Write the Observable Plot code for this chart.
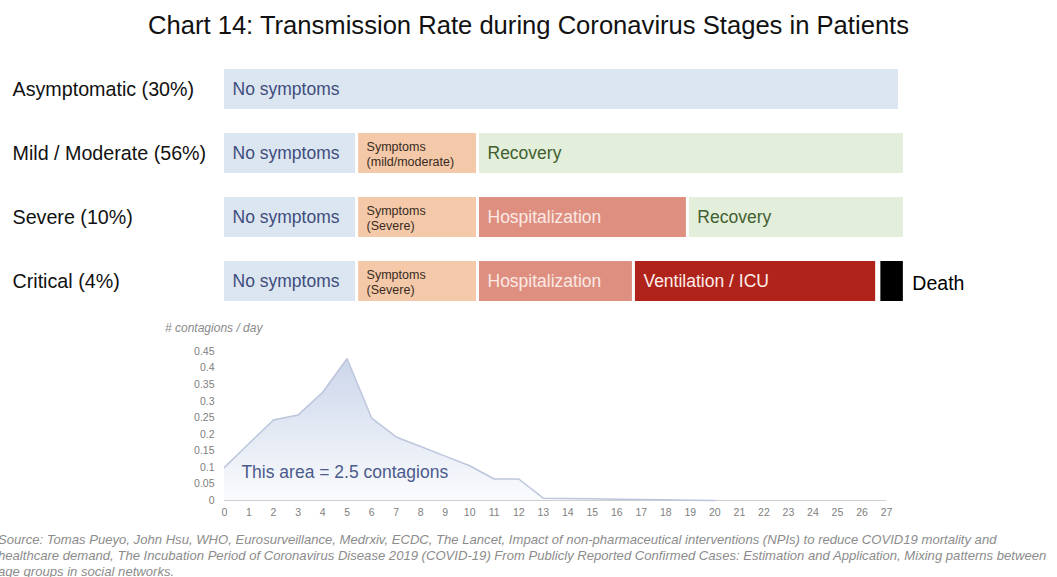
<!DOCTYPE html>
<html><head><meta charset="utf-8">
<script src="https://cdn.jsdelivr.net/npm/d3@7"></script>
<script src="https://cdn.jsdelivr.net/npm/@observablehq/plot@0.6"></script>
<style>
body{margin:0;width:1057px;height:577px;position:relative;overflow:hidden;background:#fff;font-family:"Liberation Sans",Arial,sans-serif;}
#title{position:absolute;left:0;top:11px;width:1057px;text-align:center;font-size:25.6px;color:#111;white-space:nowrap;}
#top{position:absolute;left:0;top:55px;}
#bottom{position:absolute;left:0;top:335px;}
#ylabel{position:absolute;left:165px;top:321px;font-size:12px;font-style:italic;color:#8a8a8a;}
#source{position:absolute;left:-2px;top:532px;font-size:13.1px;line-height:16px;font-style:italic;color:#8c8c8c;white-space:nowrap;}
</style></head><body>
<div id="title">Chart 14: Transmission Rate during Coronavirus Stages in Patients</div>
<div id="top"></div>
<div id="ylabel"># contagions / day</div>
<div id="bottom"></div>
<div id="source">Source: Tomas Pueyo, John Hsu, WHO, Eurosurveillance, Medrxiv, ECDC, The Lancet, Impact of non-pharmaceutical interventions (NPIs) to reduce COVID19 mortality and<br>healthcare demand, The Incubation Period of Coronavirus Disease 2019 (COVID-19) From Publicly Reported Confirmed Cases: Estimation and Application, Mixing patterns between<br>age groups in social networks.</div>
<script>
// ---- Data ----
const rows = ["Asymptomatic (30%)", "Mild / Moderate (56%)", "Severe (10%)", "Critical (4%)"];
const segRow   = [0, 1, 1, 1, 2, 2, 2, 2, 3, 3, 3, 3, 3];
const segStage = ["none", "none", "symptoms", "recovery", "none", "symptoms", "hosp", "recovery", "none", "symptoms", "hosp", "icu", "death"];
const segStart = [0, 0, 5.47, 10.4, 0, 5.47, 10.4, 18.96, 0, 5.47, 10.4, 16.76, 26.77];
const segEnd   = [27.61, 5.47, 10.4, 27.81, 5.47, 10.4, 18.96, 27.81, 5.47, 10.4, 16.76, 26.68, 27.81];
const segLabel = ["No symptoms", "No symptoms", "Symptoms\n(mild/moderate)", "Recovery", "No symptoms", "Symptoms\n(Severe)", "Hospitalization", "Recovery", "No symptoms", "Symptoms\n(Severe)", "Hospitalization", "Ventilation / ICU", "Death"];

const days = [0,1,2,3,4,5,6,7,8,9,10,11,12,13,14,15,16,17,18,19,20];
const contagions = [0.100, 0.172, 0.243, 0.258, 0.326, 0.428, 0.249, 0.192, 0.163, 0.134, 0.105, 0.065, 0.065, 0.007, 0.006, 0.005, 0.004, 0.003, 0.002, 0.001, 0];
const xTicks = [0,1,2,3,4,5,6,7,8,9,10,11,12,13,14,15,16,17,18,19,20,21,22,23,24,25,26,27];
const yTicks = [0, 0.05, 0.1, 0.15, 0.2, 0.25, 0.3, 0.35, 0.4, 0.45];
const yTickLabels = ["0", "0.05", "0.1", "0.15", "0.2", "0.25", "0.3", "0.35", "0.4", "0.45"];
const noteText = ["This area = 2.5 contagions"];
const noteX = [0.69];
const noteY = [0.085];

// ---- Styles ----
const stageFill = {none: "#dce6f1", symptoms: "#f3c9a9", recovery: "#e3eedb", hosp: "#de8f80", icu: "#b0231a", death: "#000000"};
const stageText = {none: "#3f4d7d", symptoms: "#3a2b22", recovery: "#41602f", hosp: "#fbe9e4", icu: "#fdeeea", death: "#000000"};
const FONT = '"Liberation Sans", Arial, sans-serif';
const idx = segRow.map((_, i) => i);

const topPlot = Plot.plot({
  width: 1057, height: 253,
  marginLeft: 224, marginRight: 171, marginTop: 10, marginBottom: 2,
  style: {background: "transparent", fontFamily: FONT},
  x: {domain: [0, 27], axis: null},
  y: {domain: rows, axis: null, paddingInner: 0.37, paddingOuter: 0.05},
  color: {type: "identity"},
  marks: [
    Plot.barX(idx, {x1: i => segStart[i], x2: i => segEnd[i], y: i => rows[segRow[i]], fill: i => stageFill[segStage[i]], insetRight: 3}),
    Plot.text(rows, {y: d => d, frameAnchor: "left", dx: -212, textAnchor: "start", fontSize: 19.7, fill: "#111"}),
    Plot.text(idx.filter(i => ["none","recovery","hosp","icu"].includes(segStage[i])), {x: i => segStart[i], y: i => rows[segRow[i]], text: i => segLabel[i], dx: 8, textAnchor: "start", fontSize: 17.5, fill: i => stageText[segStage[i]]}),
    Plot.text(idx.filter(i => segStage[i] === "symptoms"), {x: i => segStart[i], y: i => rows[segRow[i]], text: i => segLabel[i], dx: 8, textAnchor: "start", fontSize: 12.5, lineHeight: 1.2, fill: i => stageText[segStage[i]]}),
    Plot.text(idx.filter(i => segStage[i] === "death"), {x: i => segEnd[i], y: i => rows[segRow[i]], text: i => segLabel[i], dx: 6, dy: 2, textAnchor: "start", fontSize: 19.5, fill: "#000"})
  ]
});
document.getElementById("top").appendChild(topPlot);

const gradDefs = () => {
  const defs = d3.create("svg:defs");
  const g = defs.append("linearGradient").attr("id", "areaGrad").attr("x1", 0).attr("y1", 0).attr("x2", 0).attr("y2", 1);
  g.append("stop").attr("offset", "0%").attr("stop-color", "#ccd6ea");
  g.append("stop").attr("offset", "100%").attr("stop-color", "#fafbfd");
  return defs.node();
};

const bottomPlot = Plot.plot({
  width: 1057, height: 190,
  marginLeft: 224, marginRight: 171, marginTop: 16, marginBottom: 25,
  style: {background: "transparent", fontFamily: FONT, fontSize: "10.5px", color: "#808080"},
  x: {domain: [0, 27], ticks: xTicks, tickSize: 0, tickPadding: 8, label: null},
  y: {domain: [0, 0.45], ticks: yTicks, tickFormat: (d, i) => yTickLabels[i], tickSize: 0, tickPadding: 10, label: null},
  marks: [
    gradDefs,
    Plot.areaY(days, {x: d => d, y: (d, i) => contagions[i], fill: "url(#areaGrad)"}),
    Plot.ruleY([0], {stroke: "#d0d0d0", strokeWidth: 1}),
    Plot.lineY(days, {x: d => d, y: (d, i) => contagions[i], stroke: "#bcc6dd", strokeWidth: 1.5}),
    Plot.text(noteText, {x: (d, i) => noteX[i], y: (d, i) => noteY[i], text: d => d, textAnchor: "start", fontSize: 17.5, fill: "#4a5a8c"})
  ]
});
document.getElementById("bottom").appendChild(bottomPlot);
</script>
</body></html>
